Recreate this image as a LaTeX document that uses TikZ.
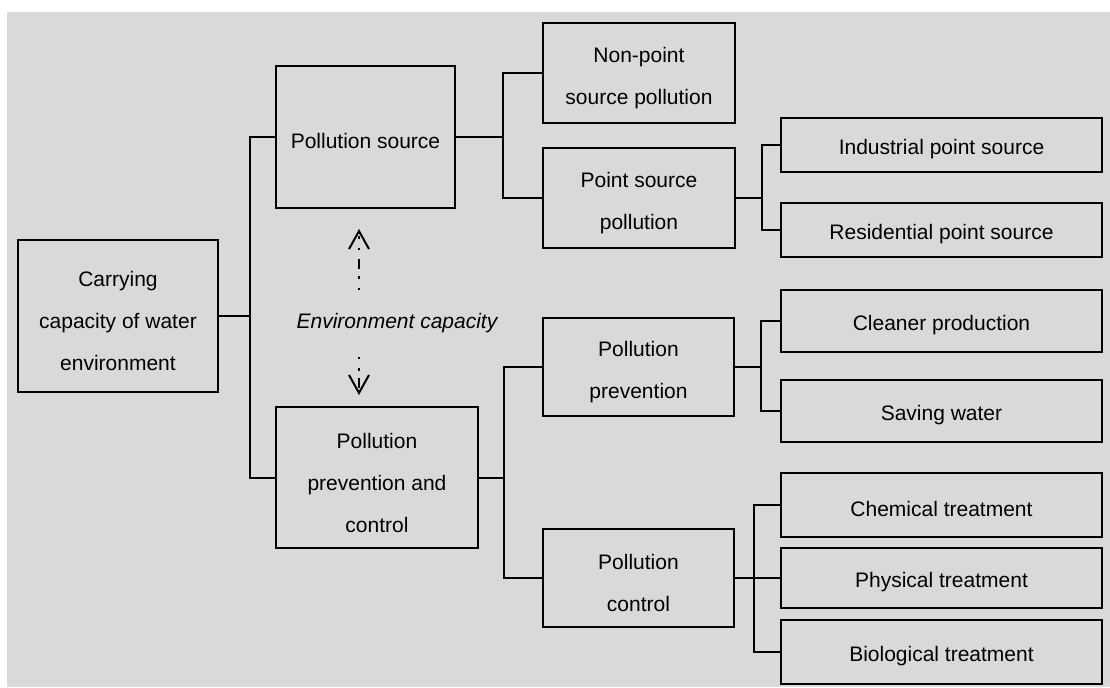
\documentclass[tikz,border=0pt]{standalone}
\usepackage{fontspec}
\setmainfont{Liberation Sans}
\usetikzlibrary{arrows.meta,calc}
\definecolor{panel}{HTML}{D9D9D9}
% extra room above the first text line, so the text sits a little low in its box
\newcommand\toproom{\rule{0pt}{13pt}}
\begin{document}
\begin{tikzpicture}[x=0.5pt,y=-0.5pt,
  txt/.style={font=\fontsize{10.5}{21}\selectfont},
  box/.style={txt,draw=black,line width=1pt,inner sep=0pt,align=center,
    execute at begin node={\rule{0pt}{12pt}}},
  sz/.style 2 args={minimum width=0.5pt*#1,minimum height=0.5pt*#2},
  link/.style={draw=black,line width=1pt},
  capflow/.style={draw=black,line width=1pt,
    dash pattern=on 1.2pt off 4.5pt on 1.2pt off 3.5pt on 5pt off 4.5pt,
    -{Straight Barb[length=9pt,width=10pt,line width=1pt]}}]

% canvas
\useasboundingbox (0,0) rectangle (1110,687);
\fill[panel] (7,12) rectangle (1110,687);

% boxes
\node[box,sz={200}{152}] (carry) at (118,316) {\toproom Carrying\\capacity of water\\environment};
\node[box,sz={179}{142}] (src) at (365.5,137) {Pollution source};
\node[box,sz={202}{141}] (ppc) at (377,477.5) {\toproom Pollution\\prevention and\\control};
\node[box,sz={192}{100}] (nonpt) at (639,73) {\toproom Non-point\\source pollution};
\node[box,sz={192}{100}] (ptsrc) at (639,198) {\toproom Point source\\pollution};
\node[box,sz={191}{98}] (prev) at (638.5,367) {\toproom Pollution\\prevention};
\node[box,sz={191}{98}] (ctrl) at (638.5,578) {\toproom Pollution\\control};
\node[box,sz={321}{54}] (ind) at (941.5,145) {Industrial point source};
\node[box,sz={321}{54}] (res) at (941.5,230) {Residential point source};
\node[box,sz={321}{62}] (clean) at (941.5,321) {Cleaner production};
\node[box,sz={321}{62}] (save) at (941.5,411) {Saving water};
\node[box,sz={321}{64}] (chem) at (941.5,505) {Chemical treatment};
\node[box,sz={321}{60}] (phys) at (941.5,578) {Physical treatment};
\node[box,sz={321}{64}] (bio) at (941.5,652) {Biological treatment};

\node[txt,font=\fontsize{10.5}{21}\selectfont\itshape] (env) at (397,323) {Environment capacity};

% tree connectors
\coordinate (tA) at ($(src.west)+(-25,0)$);
\draw[link] (src.west) -- (tA) |- (ppc.west);
\draw[link] (carry.east) -- (carry.east -| tA);

\coordinate (tB) at ($(nonpt.west)+(-39,0)$);
\draw[link] (nonpt.west) -- (tB) |- (ptsrc.west);
\draw[link] (src.east) -- (src.east -| tB);

\coordinate (tC) at ($(ind.west)+(-18,0)$);
\draw[link] (ind.west) -- (tC) |- (res.west);
\draw[link] (ptsrc.east) -- (ptsrc.east -| tC);

\coordinate (tD) at ($(prev.west)+(-38,0)$);
\draw[link] (prev.west) -- (tD) |- (ctrl.west);
\draw[link] (ppc.east) -- (ppc.east -| tD);

\coordinate (tE) at ($(clean.west)+(-19,0)$);
\draw[link] (clean.west) -- (tE) |- (save.west);
\draw[link] (prev.east) -- (prev.east -| tE);

\coordinate (tF) at ($(chem.west)+(-26,0)$);
\draw[link] (chem.west) -- (tF) |- (bio.west);
\draw[link] (ctrl.east) -- (phys.west);

% environment capacity arrows
\coordinate (upS) at (359,290);
\coordinate (upE) at (359,229);
\coordinate (dnS) at (359,357);
\coordinate (dnE) at (359,395);
\draw[capflow] (upS) -- (upE);
\draw[capflow] (dnS) -- (dnE);
\end{tikzpicture}
\end{document}
